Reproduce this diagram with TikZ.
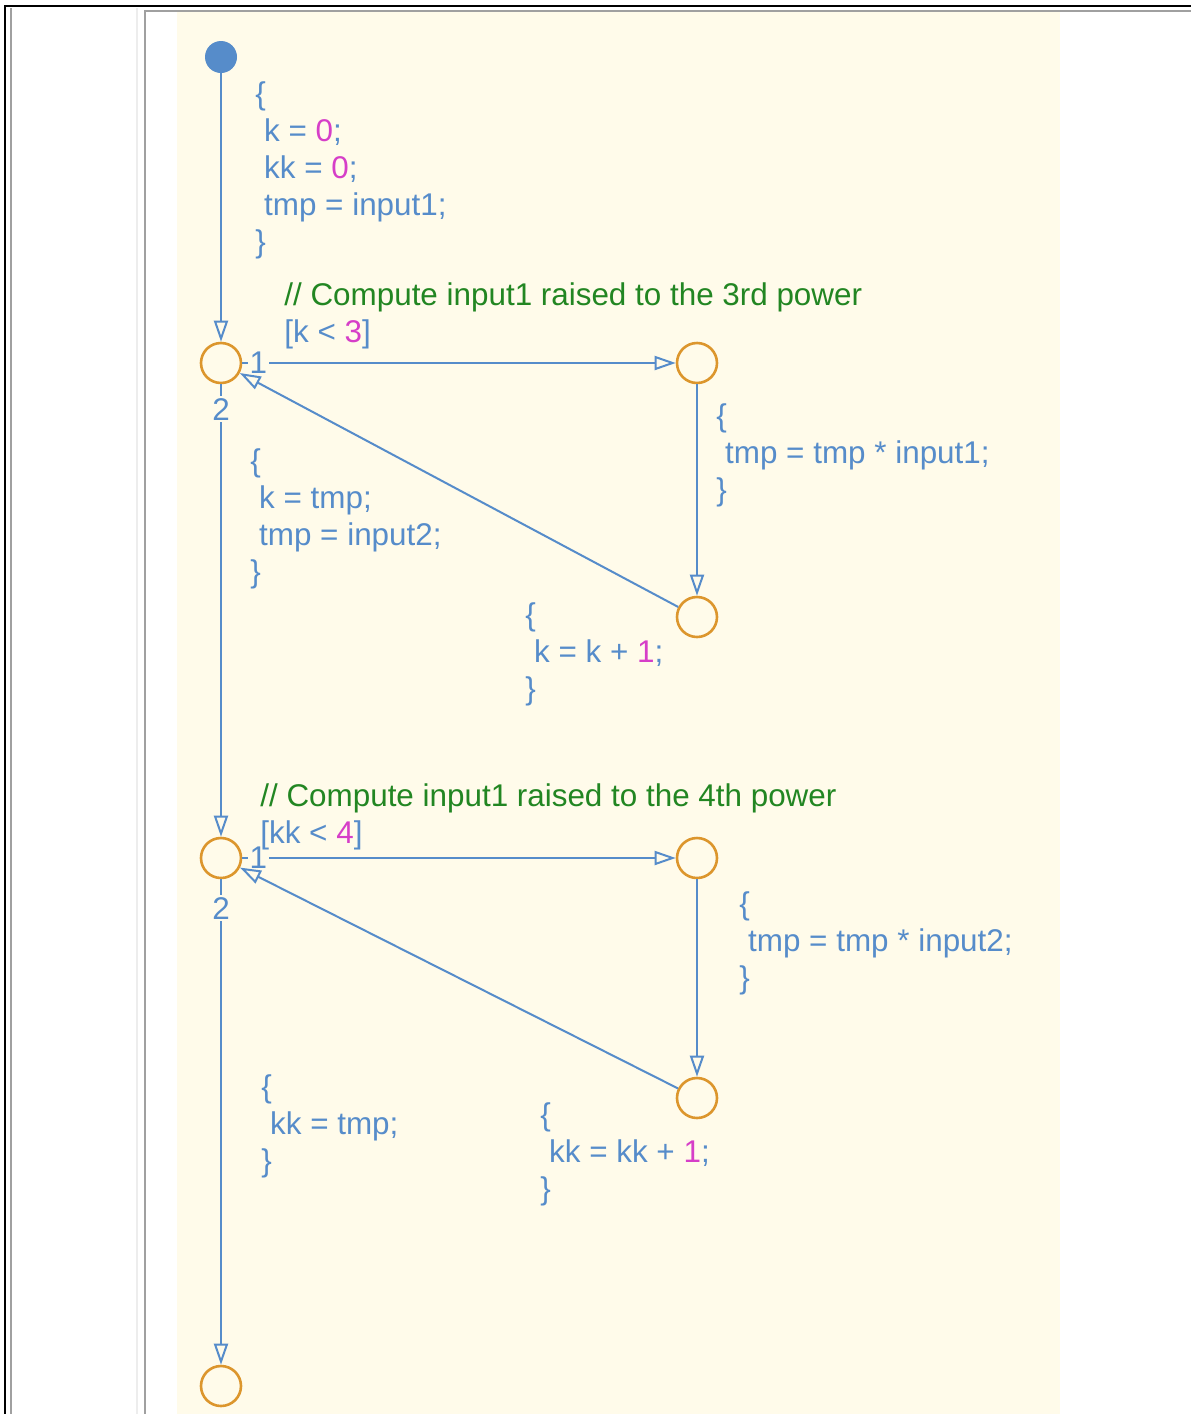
\documentclass[tikz,border=0pt]{standalone}
\usepackage{fontspec}
\setmainfont{Liberation Sans}
\usetikzlibrary{arrows.meta}
\definecolor{chartbg}{RGB}{255,251,234}
\definecolor{linecol}{RGB}{86,140,202}
\definecolor{juncol}{RGB}{220,150,45}
\definecolor{cmtcol}{RGB}{34,134,34}
\definecolor{numcol}{RGB}{214,62,200}
\definecolor{framegray}{RGB}{160,160,160}
\newcommand{\ind}{\hspace*{0.28em}}
\newcommand{\num}[1]{\textcolor{numcol}{#1}}
\tikzset{
  % --- nodes ---
  junction/.style = {circle, draw=juncol, line width=1.3pt, fill=chartbg,
                     minimum size=20pt, inner sep=0pt},
  deflt/.style    = {circle, fill=linecol, minimum size=16pt, inner sep=0pt},
  action/.style   = {align=left, text=linecol, inner sep=0pt, anchor=west},
  lbl/.style      = {text=linecol, fill=chartbg, inner sep=1pt},
  % --- edges ---
  trans/.style    = {-{Triangle[open, length=10.5pt, width=7pt]},
                     line width=1pt, linecol},
}

\begin{document}
\begin{tikzpicture}[x=0.5pt, y=-0.5pt, font=\fontsize{15.7}{18.5}\selectfont]

  \useasboundingbox (0,0) rectangle (1191,1414);

  % ===================================================================
  %  WINDOW FRAME + CHART CANVAS
  % ===================================================================
  \draw[black, line width=1pt] (5,1414) -- (5,6) -- (1191,6);
  \draw[framegray, line width=1pt] (11,8) -- (11,1414);
  \draw[black!7, line width=1pt] (137,8) -- (137,1414);
  \fill[chartbg] (177,12) rectangle (1060,1414);
  \draw[framegray, line width=1pt] (145,1414) -- (145,11) -- (1191,11);

  % ===================================================================
  %  JUNCTIONS
  % ===================================================================
  \node[deflt]    (dt) at (221,57)   {};
  \node[junction] (j1) at (221,363)  {};
  \node[junction] (j2) at (697,363)  {};
  \node[junction] (j3) at (697,617)  {};
  \node[junction] (j4) at (221,858)  {};
  \node[junction] (j5) at (697,858)  {};
  \node[junction] (j6) at (697,1098) {};
  \node[junction] (j7) at (221,1386) {};

  % ===================================================================
  %  TRANSITIONS
  % ===================================================================
  % --- first loop (3rd power) ---
  \draw[trans] (dt) -- (j1);
  \draw[trans] (j1) -- (j2) node[lbl, pos=0.037] {1};
  \draw[trans] (j2) -- (j3);
  \draw[trans] (j3) -- (j1);
  \draw[trans] (j1) -- (j4) node[lbl, pos=0.055] {2};

  % --- second loop (4th power) ---
  \draw[trans] (j4) -- (j5) node[lbl, pos=0.037] {1};
  \draw[trans] (j5) -- (j6);
  \draw[trans] (j6) -- (j4);
  \draw[trans] (j4) -- (j7) node[lbl, pos=0.06] {2};

  % ===================================================================
  %  LABELS  (comments, conditions, actions)
  % ===================================================================
  \node[action] (init) at (255,170)
    {\{\\\ind k = \num{0};\\\ind kk = \num{0};\\\ind tmp = input1;\\\}};
  \node[action] (c1) at (284,316)
    {\textcolor{cmtcol}{// Compute input1 raised to the 3rd power}\\{[}k < \num{3}{]}};
  \node[action] (mul1) at (716,455)
    {\{\\\ind tmp = tmp * input1;\\\}};
  \node[action] (exit1) at (250,519)
    {\{\\\ind k = tmp;\\\ind tmp = input2;\\\}};
  \node[action] (inc1) at (525,654)
    {\{\\\ind k = k + \num{1};\\\}};

  \node[action] (c2) at (260,817)
    {\textcolor{cmtcol}{// Compute input1 raised to the 4th power}\\{[}kk < \num{4}{]}};
  \node[action] (mul2) at (739,943)
    {\{\\\ind tmp = tmp * input2;\\\}};
  \node[action] (exit2) at (261,1126)
    {\{\\\ind kk = tmp;\\\}};
  \node[action] (inc2) at (540,1154)
    {\{\\\ind kk = kk + \num{1};\\\}};

\end{tikzpicture}
\end{document}
